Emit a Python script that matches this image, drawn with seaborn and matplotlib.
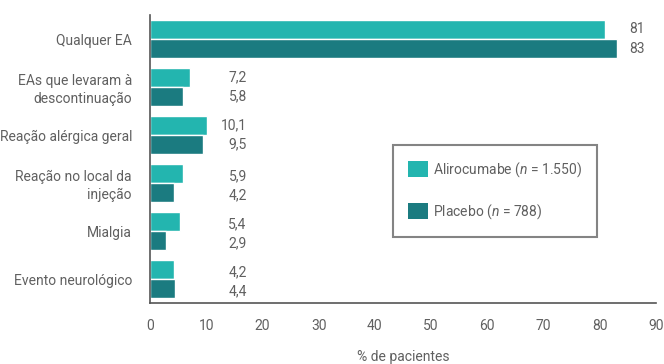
import matplotlib
matplotlib.use("Agg")
import matplotlib.pyplot as plt
import seaborn as sns
import pandas as pd
import numpy as np
from matplotlib.ticker import FixedLocator
from matplotlib.patches import Patch

categories = ["Qualquer EA", "EAs que levaram à\ndescontinuação", "Reação alérgica geral",
              "Reação no local da\ninjeção", "Mialgia", "Evento neurológico"]
alirocumabe = [81, 7.2, 10.1, 5.9, 5.4, 4.2]
placebo = [83, 5.8, 9.5, 4.2, 2.9, 4.4]
series_names = ["Alirocumabe (n = 1.550)", "Placebo (n = 788)"]
legend_labels = [r"Alirocumabe ($\mathit{n}$ = 1.550)", r"Placebo ($\mathit{n}$ = 788)"]
xticks = [0, 10, 20, 30, 40, 50, 60, 70, 80, 90]

sns.set_style("white")
plt.rcParams['font.family'] = ['Roboto', 'DejaVu Sans']
plt.rcParams['mathtext.fontset'] = 'custom'
plt.rcParams['mathtext.it'] = 'Roboto:italic'
plt.rcParams['mathtext.rm'] = 'Roboto'

TXT = "#606060"
FS = 10
colors = ["#23B5AF", "#1B7B80"]

df = pd.DataFrame({
    "cat": categories * 2,
    "val": alirocumabe + placebo,
    "grupo": [series_names[0]] * len(categories) + [series_names[1]] * len(categories),
})

fig = plt.figure(figsize=(6.64, 3.64), dpi=100)
ax = fig.add_axes([150 / 664, 1 - 303 / 364, (656 - 150) / 664, (303 - 15) / 364])
sns.barplot(data=df, y="cat", x="val", hue="grupo", hue_order=series_names,
            palette=colors, orient="h", width=0.8, ax=ax, saturation=1, legend=False)

ax.set_xlim(0, 90)
ax.set_ylim(len(categories) - 0.5, -0.5)
ax.set_xticks(xticks)
ax.set_xticklabels([str(t) for t in xticks])
ax.set_ylabel("")
ax.set_xlabel("% de pacientes", color=TXT, fontsize=FS, labelpad=12)

for s in ["top", "right"]:
    ax.spines[s].set_visible(False)
for s in ["left", "bottom"]:
    ax.spines[s].set_color("#555555")
    ax.spines[s].set_linewidth(1.2)

ax.tick_params(axis="x", direction="inout", length=9, width=1.2, color="#555555",
               labelcolor=TXT, labelsize=FS, pad=7)
ax.tick_params(axis="y", which="major", length=0, labelcolor=TXT, labelsize=FS, pad=13)
ax.yaxis.set_minor_locator(FixedLocator(np.arange(-0.5, len(categories), 1.0)))
ax.tick_params(axis="y", which="minor", direction="inout", length=10, width=1.2, color="#555555")
for lab in ax.get_yticklabels():
    lab.set_linespacing(1.3)

# value labels
n = len(categories)
for i in range(n):
    for j, vals in enumerate([alirocumabe, placebo]):
        yv = i - 0.2 + 0.4 * j + (0.05 if i >= 3 else 0)
        txt = f"{vals[i]:g}".replace(".", ",")
        if vals[i] > 50:
            ax.text(85.3, yv, txt, ha="left", va="center", color=TXT, fontsize=FS)
        else:
            ax.text(17.2, yv, txt, ha="right", va="center", color=TXT, fontsize=FS)

handles = [Patch(facecolor=c, edgecolor="none") for c in colors]
leg = ax.legend(handles, legend_labels, loc="upper left", bbox_to_anchor=(0.48, 0.549),
                frameon=True, fancybox=False, fontsize=FS, handlelength=1.4,
                handleheight=1.4, labelspacing=1.7, borderpad=1.1, handletextpad=0.4,
                borderaxespad=0)
leg.get_frame().set_edgecolor("#666666")
leg.get_frame().set_linewidth(1.5)
for t in leg.get_texts():
    t.set_color(TXT)

fig.savefig("out.png", dpi=100)
